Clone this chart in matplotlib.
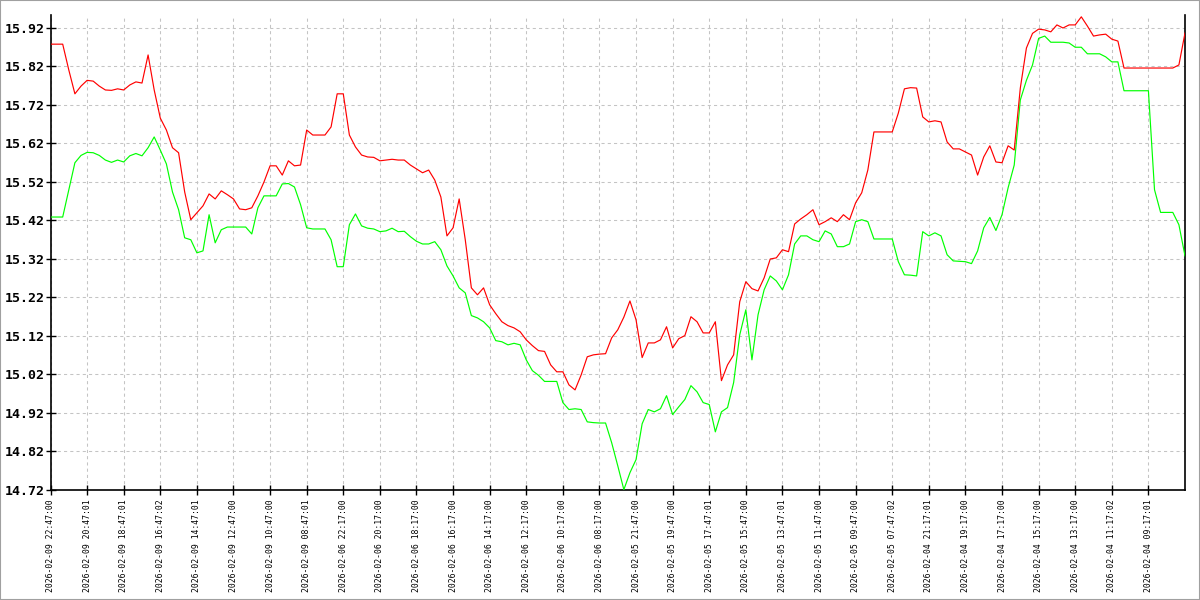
import matplotlib
matplotlib.use("Agg")
import matplotlib.pyplot as plt
from matplotlib.patches import Rectangle
from matplotlib.ticker import FixedLocator, FormatStrFormatter

# ---- data ----
tick_labels = [
    "2026-02-09 22:47:00", "2026-02-09 20:47:01", "2026-02-09 18:47:01",
    "2026-02-09 16:47:02", "2026-02-09 14:47:01", "2026-02-09 12:47:00",
    "2026-02-09 10:47:00", "2026-02-09 08:47:01", "2026-02-06 22:17:00",
    "2026-02-06 20:17:00", "2026-02-06 18:17:00", "2026-02-06 16:17:00",
    "2026-02-06 14:17:00", "2026-02-06 12:17:00", "2026-02-06 10:17:00",
    "2026-02-06 08:17:00", "2026-02-05 21:47:00", "2026-02-05 19:47:00",
    "2026-02-05 17:47:01", "2026-02-05 15:47:00", "2026-02-05 13:47:01",
    "2026-02-05 11:47:00", "2026-02-05 09:47:00", "2026-02-05 07:47:02",
    "2026-02-04 21:17:01", "2026-02-04 19:17:00", "2026-02-04 17:17:00",
    "2026-02-04 15:17:00", "2026-02-04 13:17:00", "2026-02-04 11:17:02",
    "2026-02-04 09:17:01",
]
points_per_tick = 6

high = [
    15.878, 15.878, 15.878, 15.811, 15.749, 15.769, 15.784, 15.782, 15.769, 15.759,
    15.758, 15.762, 15.759, 15.772, 15.780, 15.777, 15.850, 15.759, 15.686, 15.655,
    15.609, 15.596, 15.494, 15.422, 15.440, 15.458, 15.489, 15.476, 15.497, 15.487,
    15.476, 15.450, 15.448, 15.453, 15.484, 15.520, 15.562, 15.562, 15.538, 15.575,
    15.562, 15.564, 15.655, 15.642, 15.642, 15.642, 15.663, 15.749, 15.749, 15.642,
    15.611, 15.590, 15.585, 15.584, 15.575, 15.577, 15.579, 15.577, 15.577, 15.564,
    15.554, 15.544, 15.551, 15.525, 15.481, 15.380, 15.401, 15.476, 15.370, 15.245,
    15.227, 15.245, 15.201, 15.178, 15.157, 15.147, 15.141, 15.131, 15.110, 15.095,
    15.082, 15.080, 15.045, 15.027, 15.027, 14.993, 14.980, 15.019, 15.066, 15.071,
    15.073, 15.074, 15.115, 15.136, 15.169, 15.211, 15.162, 15.064, 15.102, 15.102,
    15.110, 15.144, 15.089, 15.113, 15.121, 15.170, 15.157, 15.128, 15.128, 15.157,
    15.004, 15.045, 15.071, 15.209, 15.261, 15.243, 15.237, 15.271, 15.320, 15.323,
    15.344, 15.339, 15.411, 15.424, 15.435, 15.448, 15.409, 15.417, 15.427, 15.417,
    15.435, 15.422, 15.466, 15.492, 15.551, 15.650, 15.650, 15.650, 15.650, 15.699,
    15.762, 15.765, 15.764, 15.689, 15.676, 15.679, 15.676, 15.624, 15.606, 15.606,
    15.598, 15.590, 15.538, 15.585, 15.614, 15.572, 15.570, 15.614, 15.603, 15.764,
    15.868, 15.906, 15.917, 15.915, 15.910, 15.928, 15.920, 15.928, 15.928, 15.949,
    15.925, 15.899, 15.902, 15.904, 15.891, 15.886, 15.816, 15.816, 15.816, 15.816,
    15.816, 15.816, 15.816, 15.816, 15.816, 15.824, 15.907,
]

low = [
    15.429, 15.429, 15.429, 15.500, 15.570, 15.589, 15.597, 15.596, 15.589, 15.577,
    15.571, 15.577, 15.572, 15.588, 15.594, 15.588, 15.609, 15.637, 15.603, 15.567,
    15.494, 15.448, 15.375, 15.370, 15.336, 15.341, 15.435, 15.362, 15.396, 15.403,
    15.403, 15.403, 15.403, 15.385, 15.453, 15.484, 15.484, 15.484, 15.515, 15.516,
    15.507, 15.461, 15.401, 15.398, 15.398, 15.398, 15.370, 15.300, 15.300, 15.409,
    15.437, 15.406, 15.400, 15.398, 15.391, 15.393, 15.400, 15.391, 15.392, 15.378,
    15.366, 15.359, 15.359, 15.365, 15.344, 15.302, 15.276, 15.245, 15.232, 15.173,
    15.167, 15.157, 15.141, 15.108, 15.105, 15.097, 15.101, 15.097, 15.058, 15.030,
    15.018, 15.002, 15.002, 15.002, 14.947, 14.929, 14.931, 14.929, 14.897, 14.895,
    14.894, 14.894, 14.843, 14.783, 14.721, 14.765, 14.799, 14.892, 14.929, 14.923,
    14.931, 14.965, 14.916, 14.936, 14.955, 14.991, 14.975, 14.947, 14.942, 14.871,
    14.923, 14.934, 14.999, 15.123, 15.188, 15.058, 15.175, 15.240, 15.276, 15.263,
    15.240, 15.279, 15.359, 15.380, 15.380, 15.370, 15.365, 15.393, 15.385, 15.352,
    15.352, 15.359, 15.417, 15.422, 15.417, 15.372, 15.372, 15.372, 15.372, 15.313,
    15.279, 15.278, 15.276, 15.391, 15.380, 15.388, 15.380, 15.331, 15.315, 15.314,
    15.313, 15.308, 15.341, 15.401, 15.428, 15.394, 15.435, 15.505, 15.564, 15.733,
    15.784, 15.824, 15.893, 15.899, 15.883, 15.883, 15.883, 15.881, 15.870, 15.870,
    15.853, 15.853, 15.853, 15.845, 15.832, 15.832, 15.757, 15.757, 15.757, 15.757,
    15.757, 15.500, 15.441, 15.441, 15.441, 15.409, 15.328,
]

y_ticks = [14.72, 14.82, 14.92, 15.02, 15.12, 15.22, 15.32, 15.42, 15.52, 15.62, 15.72, 15.82, 15.92]

# ---- plot ----
fig = plt.figure(figsize=(12, 6), dpi=100)
fig.patches.append(Rectangle((0, 0), 1, 1, transform=fig.transFigure,
                             fill=False, edgecolor="#a0a0a0", linewidth=1.5))
ax = fig.add_axes([50.5 / 1200, 1 - 490 / 600, (1185 - 50.5) / 1200, (490 - 15) / 600])

idx = list(range(len(high)))
ax.plot(idx, low, color="#00ff00", linewidth=0.85, zorder=3)
ax.plot(idx, high, color="#ff0000", linewidth=0.85, zorder=4)

n_int = len(high) - 1
ax.set_xlim(0, n_int)
ax.set_ylim(14.72, 15.92 + 13 / 385.3)

ax.xaxis.set_major_locator(FixedLocator([i * points_per_tick for i in range(len(tick_labels))]))
ax.set_xticklabels(tick_labels, rotation=90, fontfamily="DejaVu Sans Mono", fontsize=5.9)
ax.yaxis.set_major_locator(FixedLocator(y_ticks))
ax.yaxis.set_major_formatter(FormatStrFormatter("%.2f"))
for lab in ax.get_yticklabels():
    lab.set_fontfamily("DejaVu Sans Mono")
    lab.set_fontweight("bold")
    lab.set_fontsize(9.5)

ax.tick_params(axis="both", direction="inout", length=7, width=1, color="black")
ax.tick_params(axis="x", pad=3)
ax.tick_params(axis="y", pad=1)

ax.grid(True, color="#c4c4c4", linestyle=(0, (3, 3)), linewidth=0.75, zorder=0)
ax.set_axisbelow(True)

ax.spines["top"].set_visible(False)
for s in ("left", "bottom", "right"):
    ax.spines[s].set_color("black")
    ax.spines[s].set_linewidth(1.2)

fig.savefig("out.png", dpi=100)
